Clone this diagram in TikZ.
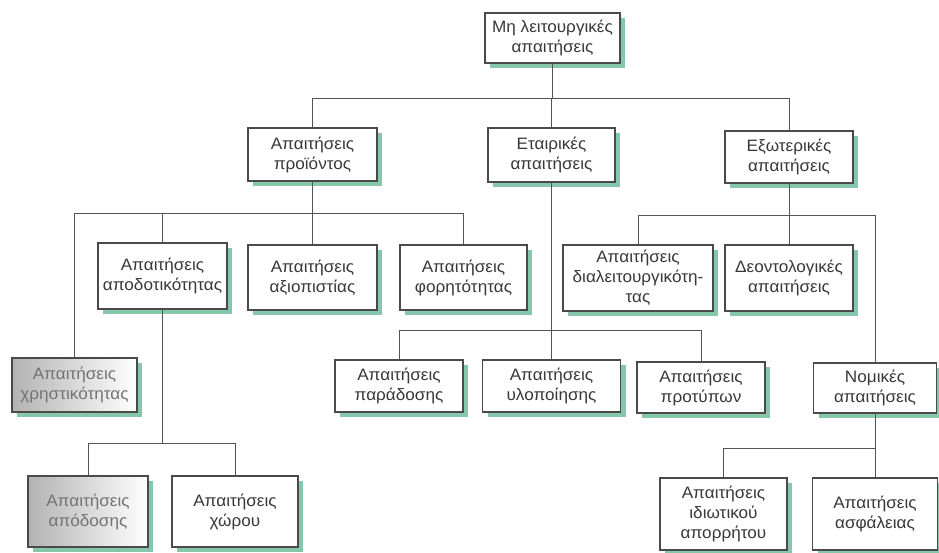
\documentclass[tikz,border=0pt]{standalone}
\usepackage{fontspec}
\setmainfont{Liberation Sans}[FakeStretch=1.04]
\usetikzlibrary{shadows}
\definecolor{boxline}{HTML}{4A4A4A}
\definecolor{shadowgreen}{HTML}{86C7AC}
\definecolor{wire}{HTML}{555555}
\tikzset{
  box/.style={draw=boxline, line width=1.2pt, fill=white, align=center,
    inner sep=1pt, font=\fontsize{16.5}{20}\selectfont, text=black!78,
    drop shadow={shadow xshift=5pt, shadow yshift=-5pt, fill=shadowgreen, opacity=1}},
  faded/.style={left color=gray!60, right color=white, text=black!55},
  wirestyle/.style={draw=wire, line width=0.9pt},
}
\newcommand{\bx}[5]{\node[box, minimum width=#3pt, minimum height=#4pt] (#1) at (#2) {#5};}
\begin{document}
\begin{tikzpicture}[x=1pt,y=-1pt]
\useasboundingbox (0,0) rectangle (939,553);
\fill[white] (0,0) rectangle (939,553);

\coordinate (b1) at (0,98);
\coordinate (b2) at (0,213);
\coordinate (b3) at (0,443);
\coordinate (b4) at (0,330);
\coordinate (b5) at (0,215);
\coordinate (b6) at (0,448);

\bx{root}{552.5,38}{135}{50}{Μη λειτουργικές\\απαιτήσεις}
\bx{prod}{312.5,154.5}{129}{53}{Απαιτήσεις\\προϊόντος}
\bx{org}{551.5,155}{127}{54}{Εταιρικές\\απαιτήσεις}
\bx{ext}{789,157}{128}{52}{Εξωτερικές\\απαιτήσεις}
\bx{eff}{162.5,276}{129}{66}{Απαιτήσεις\\αποδοτικότητας}
\bx{rel}{312.5,277.5}{129}{65}{Απαιτήσεις\\αξιοπιστίας}
\bx{port}{463.5,277.5}{127}{65}{Απαιτήσεις\\φορητότητας}
\node[box, faded, minimum width=125pt, minimum height=54pt] (usab) at (74.5,385) {Απαιτήσεις\\χρηστικότητας};
\node[box, faded, minimum width=120pt, minimum height=71pt] (perf) at (88,511.5) {Απαιτήσεις\\απόδοσης};
\bx{space}{235,511.5}{126}{71}{Απαιτήσεις\\χώρου}
\bx{deliv}{399,386}{128}{52}{Απαιτήσεις\\παράδοσης}
\bx{impl}{551.5,386}{138}{52}{Απαιτήσεις\\υλοποίησης}
\bx{stand}{701,387.5}{128}{51}{Απαιτήσεις\\προτύπων}
\bx{inter}{638,278}{150}{66}{Απαιτήσεις\\διαλειτουργικότη-\\τας}
\bx{ethic}{789,278}{128}{66}{Δεοντολογικές\\απαιτήσεις}
\bx{legal}{875,388}{123}{50}{Νομικές\\απαιτήσεις}
\bx{priv}{723.5,514}{127}{72}{Απαιτήσεις\\ιδιωτικού\\απορρήτου}
\bx{safe}{875,514}{125}{72}{Απαιτήσεις\\ασφάλειας}

\foreach \c in {prod,org,ext}
  \draw[wirestyle] (root.south) -- (root.south |- b1) -| (\c.north);
\foreach \c in {usab,eff,rel,port}
  \draw[wirestyle] (prod.south) -- (prod.south |- b2) -| (\c.north);
\foreach \c in {perf,space}
  \draw[wirestyle] (eff.south) -- (eff.south |- b3) -| (\c.north);
\foreach \c in {deliv,impl,stand}
  \draw[wirestyle] (org.south) -- (org.south |- b4) -| (\c.north);
\foreach \c in {inter,ethic,legal}
  \draw[wirestyle] (ext.south) -- (ext.south |- b5) -| (\c.north);
\foreach \c in {priv,safe}
  \draw[wirestyle] (legal.south) -- (legal.south |- b6) -| (\c.north);
\end{tikzpicture}
\end{document}
